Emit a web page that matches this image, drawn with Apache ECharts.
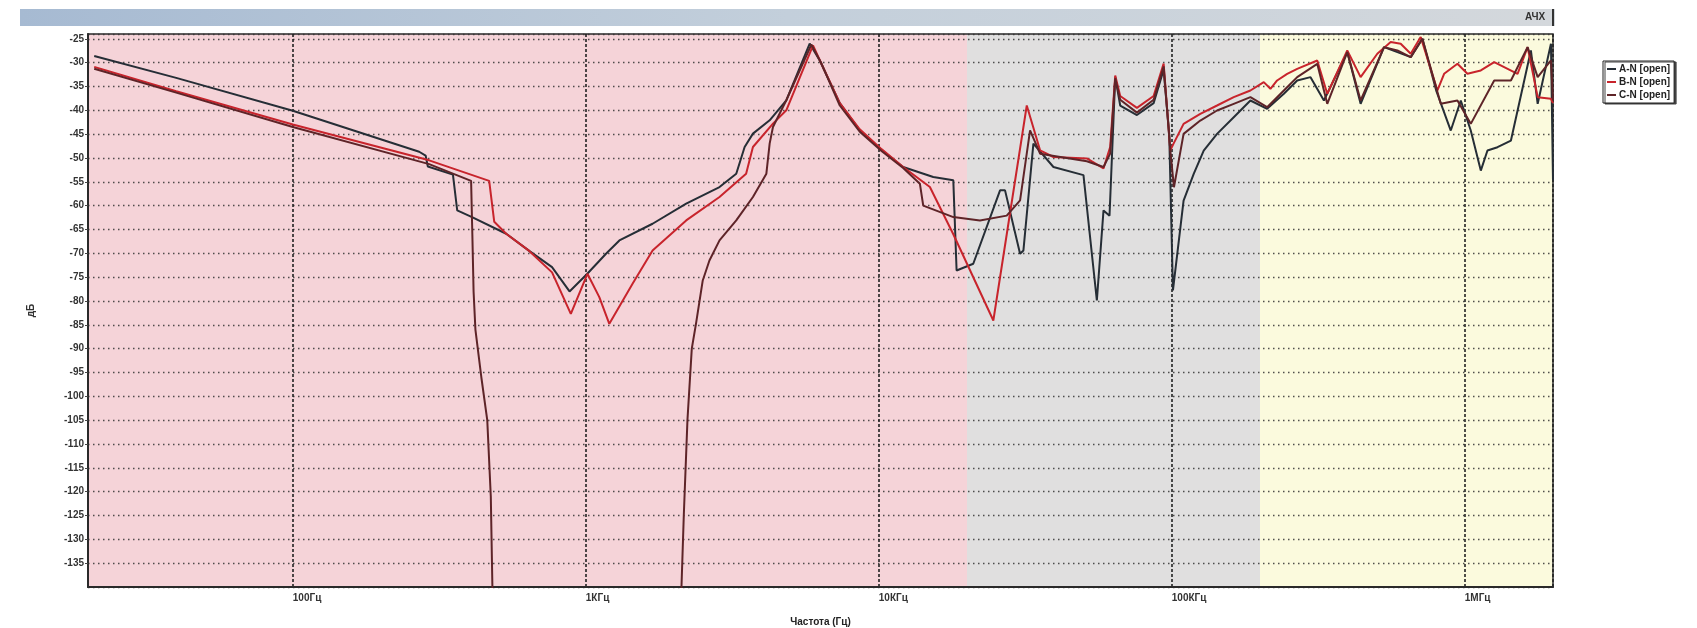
<!DOCTYPE html>
<html>
<head>
<meta charset="utf-8">
<script src="https://cdn.jsdelivr.net/npm/echarts@6/dist/echarts.min.js"></script>
<style>
html,body{margin:0;padding:0;background:#fff;}
#chart{width:1697px;height:628px;}
</style>
</head>
<body>
<div id="chart"></div>
<script>
// ---- data ----
const seriesNames = ['A-N [open]', 'B-N [open]', 'C-N [open]'];
const seriesColors = ['#262e36', '#c8242c', '#5e2428'];
const xTickValues = [100, 1000, 10000, 100000, 1000000];
const xTickLabels = ['100Гц', '1КГц', '10КГц', '100КГц', '1МГц'];
const bandEdges = [20, 20000, 200000, 2000000];
const bandColors = ['#f5d3d8', '#e0dfdf', '#fbfadd'];

const dataA = [[21,-28.6],[40,-33.2],[100,-40.1],[270,-48.7],[284,-49.5],[289,-51.8],[352,-53.5],[364,-61.0],[409,-62.4],[535,-65.9],[641,-69.5],[767,-72.9],[880,-78.0],[1012,-74.3],[1172,-70.1],[1302,-67.3],[1690,-63.8],[2201,-59.6],[2860,-56.1],[3262,-53.3],[3484,-47.7],[3719,-44.9],[4241,-42.1],[4834,-37.9],[5809,-26.0],[6280,-29.5],[7360,-38.5],[8610,-44.2],[10240,-48.4],[12110,-51.9],[15340,-54.0],[17960,-54.7],[18430,-73.6],[21010,-72.2],[25930,-56.8],[26970,-56.8],[30350,-70.1],[31160,-69.4],[33700,-47.0],[39450,-51.9],[49950,-53.6],[55490,-79.9],[58470,-61.0],[61300,-62.1],[64110,-33.0],[66670,-39.0],[76030,-41.0],[86690,-38.5],[93790,-31.5],[98000,-45.0],[100900,-77.8],[109700,-58.95],[118800,-53.35],[128500,-48.45],[142700,-44.95],[162700,-41.45],[185500,-37.95],[211500,-39.7],[241200,-36.55],[267900,-33.75],[297500,-33.05],[330500,-37.95],[397100,-27.8],[441000,-38.65],[530000,-26.75],[588700,-27.8],[653800,-28.85],[716600,-25.0],[800000,-36.0],[895600,-44.25],[968900,-37.95],[1048000,-44.25],[1134000,-52.65],[1195000,-48.45],[1293000,-47.75],[1437000,-46.35],[1681000,-27.45],[1773000,-38.65],[1968000,-26.05],[2000000,-54.75]];

const dataB = [[21,-30.9],[40,-36.0],[100,-43.0],[292,-50.5],[468,-54.8],[487,-63.4],[535,-65.9],[641,-69.5],[767,-74.0],[889,-82.7],[1013,-74.3],[1112,-79.2],[1203,-84.8],[1444,-76.4],[1690,-69.4],[2201,-63.1],[2860,-58.2],[3525,-53.3],[3719,-47.7],[4353,-42.8],[4834,-40.0],[5963,-26.4],[6400,-30.5],[7360,-38.5],[8610,-44.0],[10240,-48.2],[12110,-51.9],[14940,-56.1],[17960,-66.0],[24600,-84.1],[31990,-39.0],[35520,-48.4],[39450,-49.8],[51290,-50.1],[58470,-52.2],[61610,-47.7],[64110,-32.7],[66670,-37.0],[76030,-39.5],[86690,-37.0],[93790,-30.2],[98830,-48.4],[101400,-47.0],[109700,-42.85],[125100,-40.75],[142700,-39.0],[162700,-37.25],[185500,-35.85],[206000,-34.1],[217100,-35.5],[228800,-33.75],[247600,-32.35],[267900,-31.3],[313600,-29.55],[339300,-36.55],[397100,-27.45],[441000,-33.05],[502800,-28.15],[558500,-25.7],[604300,-26.05],[653800,-28.15],[707300,-24.65],[806500,-35.85],[849900,-32.35],[943800,-30.25],[1021000,-32.35],[1134000,-31.65],[1260000,-29.9],[1514000,-32.35],[1638000,-26.75],[1773000,-37.25],[1968000,-37.6],[2000000,-38.5]];

const dataC = [[21,-31.3],[40,-36.3],[100,-43.5],[292,-51.3],[406,-54.8],[410,-66.0],[414,-78.0],[420,-86.0],[440,-96.0],[461,-105.0],[474,-121.0],[480,-140.0],[486,-155.0],[2080,-155.0],[2121,-140.0],[2160,-125.0],[2223,-105.0],[2300,-90.0],[2377,-84.8],[2507,-75.7],[2642,-71.5],[2860,-67.3],[3262,-63.1],[3719,-58.2],[4133,-53.3],[4241,-47.0],[4353,-43.5],[4834,-37.9],[5887,-26.2],[6350,-30.0],[7360,-39.0],[8610,-44.5],[10240,-48.6],[12110,-52.1],[13810,-55.4],[14180,-60.0],[17960,-62.4],[22140,-63.1],[27330,-62.1],[30350,-58.9],[32830,-44.2],[35520,-49.1],[51290,-50.7],[58470,-51.9],[61610,-49.1],[64110,-33.3],[66670,-37.8],[76030,-40.5],[86690,-37.8],[93790,-30.8],[98830,-48.4],[101700,-56.15],[109700,-44.95],[125100,-42.15],[142700,-40.05],[162700,-38.65],[185500,-37.25],[211500,-39.35],[241200,-35.85],[267900,-33.05],[313600,-30.25],[339300,-38.65],[397100,-27.8],[441000,-37.95],[530000,-26.75],[588700,-27.45],[653800,-28.85],[716600,-25.0],[827900,-38.65],[943800,-37.95],[1048000,-42.85],[1260000,-33.75],[1437000,-33.75],[1638000,-26.75],[1773000,-33.05],[1968000,-29.55],[2000000,-37.95]];

const allData = [dataA, dataB, dataC];

// ---- chart ----
const chart = echarts.init(document.getElementById('chart'), null, {renderer: 'canvas'});
const FONT = 'Liberation Sans, Arial, sans-serif';

function xLabel(v) {
  for (let i = 0; i < xTickValues.length; i++) {
    if (Math.abs(v - xTickValues[i]) / xTickValues[i] < 1e-6) return xTickLabels[i];
  }
  return '';
}

const bandAreas = bandColors.map((c, i) => [
  {xAxis: bandEdges[i], yAxis: 'min', itemStyle: {color: c}},
  {xAxis: bandEdges[i + 1], yAxis: 'max'}
]);

const series = [{
  name: 'bands',
  type: 'line',
  data: [],
  z: -5,
  silent: true,
  markArea: {silent: true, z: -5, data: bandAreas}
}];
allData.forEach((d, i) => {
  series.push({
    name: seriesNames[i],
    type: 'line',
    data: d,
    showSymbol: false,
    symbol: 'none',
    clip: true,
    z: 3 + i,
    lineStyle: {color: seriesColors[i], width: 2},
    itemStyle: {color: seriesColors[i]}
  });
});

chart.setOption({
  animation: false,
  backgroundColor: '#fff',
  textStyle: {fontFamily: FONT},
  graphic: [
    {type: 'rect', left: 20, top: 9, shape: {width: 1535, height: 17},
     style: {fill: new echarts.graphic.LinearGradient(0, 0, 1, 0, [
       {offset: 0, color: '#a6bad2'}, {offset: 0.5, color: '#c3cfdb'}, {offset: 1, color: '#d4d8dc'}])}},
    {type: 'rect', left: 1552, top: 9, shape: {width: 2, height: 17}, style: {fill: '#333'}},
    {type: 'text', left: 1525, top: 12, style: {text: 'АЧХ', fill: '#333', font: 'bold 10px ' + FONT}}
  ],
  legend: {
    data: seriesNames,
    orient: 'vertical',
    left: 1603,
    top: 61,
    itemWidth: 9,
    itemHeight: 2,
    itemGap: 3,
    icon: 'rect',
    padding: [3, 4, 3, 4],
    borderColor: '#222',
    borderWidth: 1,
    backgroundColor: '#fff',
    shadowColor: '#444',
    shadowOffsetX: 2,
    shadowOffsetY: 1,
    shadowBlur: 0,
    textStyle: {fontSize: 10, fontWeight: 'bold', color: '#222', fontFamily: FONT, padding: [0, 0, 0, -2]}
  },
  grid: {left: 88, right: 144, top: 34, bottom: 41, show: true, borderColor: '#2a2a2a', borderWidth: 1.5, backgroundColor: 'transparent', containLabel: false, outerBoundsMode: 'none'},
  xAxis: {
    type: 'log',
    logBase: 10,
    min: bandEdges[0],
    max: bandEdges[bandEdges.length - 1],
    name: 'Частота (Гц)',
    nameLocation: 'middle',
    nameGap: 30,
    nameTextStyle: {fontSize: 10, fontWeight: 'bold', color: '#222', fontFamily: FONT},
    axisLine: {show: true, onZero: false, lineStyle: {color: '#2a2a2a', width: 2}},
    axisTick: {show: false},
    axisLabel: {formatter: xLabel, align: 'left', margin: 6, fontSize: 10, fontWeight: 'bold', color: '#333', fontFamily: FONT, showMinLabel: false, showMaxLabel: false},
    splitLine: {show: true, lineStyle: {color: '#222', width: 1.6, type: [3, 2]}},
    minorTick: {show: false},
    minorSplitLine: {show: false}
  },
  yAxis: {
    type: 'value',
    min: -140,
    max: -24,
    interval: 5,
    name: 'дБ',
    nameLocation: 'middle',
    nameRotate: 90,
    nameGap: 52,
    nameTextStyle: {fontSize: 10, fontWeight: 'bold', color: '#333', fontFamily: FONT},
    axisLine: {show: true, lineStyle: {color: '#2a2a2a', width: 2}},
    axisTick: {show: true, length: 3, lineStyle: {color: '#444'}},
    axisLabel: {fontSize: 10, fontWeight: 'bold', color: '#333', fontFamily: FONT, margin: 4, showMinLabel: false, showMaxLabel: false},
    splitLine: {show: true, lineStyle: {color: '#333', width: 1.3, type: [1.5, 3.5], opacity: 0.85}}
  },
  series: series
});
</script>
</body>
</html>
